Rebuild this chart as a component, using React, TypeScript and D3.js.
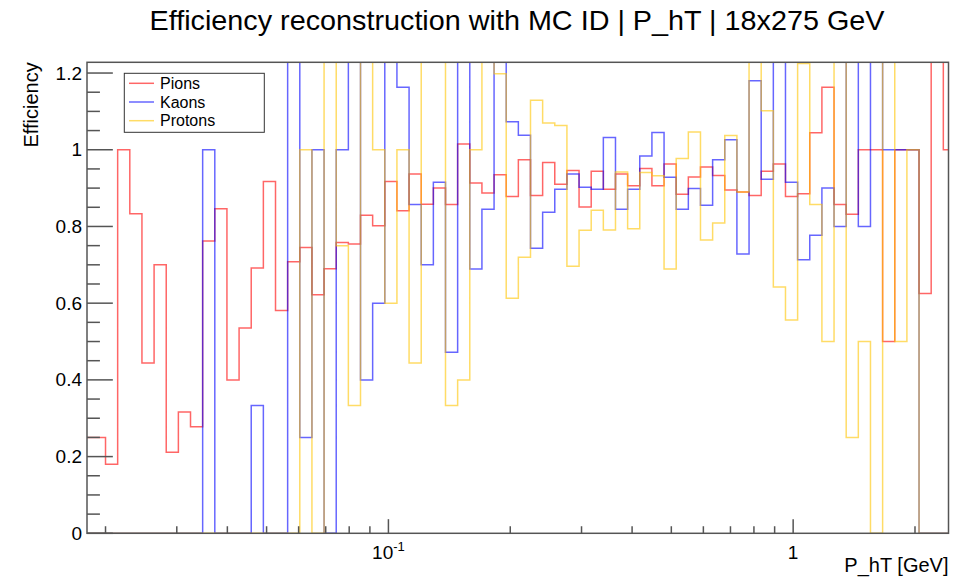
import React from 'react';
import * as d3 from 'd3';

const W = 965;
const H = 579;

// Binning: uniform in log10(P_hT); bin index 0 starts at binLowEdge
const binLowEdge = 0.02;
const binWidthDecades = 0.03;
const firstBinIndex = -2;

// Efficiency per bin, starting at bin index firstBinIndex
const pions = [
  0.25, 0.25, 0.18, 1.0, 0.833, 0.444, 0.7, 0.211, 0.316, 0.278,
  0.762, 0.846, 0.4, 0.535, 0.692, 0.917, 0.581, 0.708, 0.745, 0.622,
  0.69, 0.758, 0.754, 0.829, 0.802, 0.917, 0.841, 0.937, 0.858, 0.9,
  0.857, 1.015, 0.913, 0.887, 0.935, 0.878, 0.974, 0.881, 0.967, 0.91,
  0.946, 0.851, 0.944, 0.897, 0.937, 0.906, 0.951, 0.906, 0.963, 0.884,
  0.929, 0.955, 0.933, 0.895, 0.89, 0.881, 0.944, 0.963, 0.878, 0.885,
  1.044, 1.163, 0.857, 0.832, 1.0, 1.0, 0.5, 1.0, 1.0, 0.625,
  2.0, 1.0,
];

const kaons = [
  0, 0, 0, 0, 0, 0, 0, 0, 0, 0,
  1.0, 0, 0, 0, 0.333, 0, 0, 2.0, 0.25, 1.0,
  0, 1.0, 2.0, 0.4, 0.6, 2.0, 1.163, 0.857, 0.7, 0.915,
  0.472, 2.0, 0.689, 0.845, 2.0, 1.073, 1.038, 0.743, 0.837, 0.897,
  0.937, 0.902, 0.897, 1.032, 0.845, 0.897, 0.984, 1.045, 0.928, 0.845,
  0.899, 0.855, 0.974, 1.026, 0.728, 1.18, 0.923, 2.0, 0.915, 0.713,
  0.777, 0.9, 0.8, 2.0, 0.8, 2.0, 1.0, 1.0, 1.0, 0,
  0, 0,
];

const protons = [
  0, 0, 0, 0, 0, 0, 0, 0, 0, 0,
  0, 0, 0, 0, 0, 0, 0, 0, 1.0, 0,
  2.0, 0.75, 0.333, 2.0, 1.0, 0.6, 1.0, 0.444, 2.0, 2.0,
  0.333, 0.4, 1.0, 2.0, 1.198, 0.613, 0.72, 1.129, 1.07, 1.063,
  0.696, 0.79, 0.842, 0.791, 0.942, 0.794, 0.941, 0.932, 0.689, 0.977,
  1.046, 0.765, 0.809, 1.037, 0.89, 2.0, 1.102, 0.642, 0.556, 1.225,
  0.857, 0.5, 2.0, 0.25, 0.5, 0, 2.0, 0.5, 1.0, 0,
  0, 0,
];

const seriesNames = ['Pions', 'Kaons', 'Protons'];
const seriesValues = [pions, kaons, protons];
const seriesColors = ['#ff0000', '#0000ff', '#ffc400'];

const titleText = 'Efficiency reconstruction with MC ID | P_hT | 18x275 GeV';
const xTitle = 'P_hT [GeV]';
const yTitle = 'Efficiency';

const xDomain = [0.018, 2.42];
const yDomain = [0, 1.228];
const yMajorTicks = [0, 0.2, 0.4, 0.6, 0.8, 1, 1.2];
const yMinorStep = 0.05;

const frame = { left: 87, right: 948.5, top: 62.3, bottom: 533.3 };

const x = d3.scaleLog().domain(xDomain).range([frame.left, frame.right]);
const y = d3.scaleLinear().domain(yDomain).range([frame.bottom, frame.top]);

const binEdge = (i: number) =>
  binLowEdge * Math.pow(10, (i + firstBinIndex) * binWidthDecades);

function histPath(values: number[]): string {
  const pts: [number, number][] = values.map((v, i) => [x(binEdge(i)), y(v)]);
  pts.push([x(binEdge(values.length)), y(values[values.length - 1])]);
  pts.unshift([x(binEdge(0)), y(0)]);
  return d3.line().curve(d3.curveStepAfter)(pts) || '';
}

export default function App() {
  const font = 'Liberation Sans, Arial, Helvetica, sans-serif';
  const frameH = frame.bottom - frame.top;
  const frameW = frame.right - frame.left;
  const yTickLen = 0.03 * frameW;
  const xTickLen = 0.03 * frameH;

  const yMinor = d3.range(0, yDomain[1] + 1e-9, yMinorStep).filter(
    (v) => !yMajorTicks.some((m) => Math.abs(m - v) < 1e-6)
  );
  const xTicks = x.ticks().filter((v) => v >= xDomain[0] && v <= xDomain[1]);
  const isDecade = (v: number) => Math.abs(Math.log10(v) - Math.round(Math.log10(v))) < 1e-6;

  return (
    <svg
      width={W}
      height={H}
      style={{ position: 'absolute', left: 0, top: 0, background: '#fff' }}
      fontFamily={font}
    >
      <defs>
        <clipPath id="frameClip">
          <rect x={frame.left} y={frame.top} width={frameW} height={frameH} />
        </clipPath>
      </defs>

      <text
        x={517}
        y={30}
        fontSize={28}
        textAnchor="middle"
        fill="#000"
        textLength={735}
        lengthAdjust="spacingAndGlyphs"
      >
        {titleText}
      </text>

      <g clipPath="url(#frameClip)">
        {seriesValues.map((vals, si) => (
          <path
            key={seriesNames[si]}
            d={histPath(vals)}
            fill="none"
            stroke={seriesColors[si]}
            strokeOpacity={0.6}
            strokeWidth={1.5}
          />
        ))}
      </g>

      {/* frame */}
      <rect
        x={frame.left}
        y={frame.top}
        width={frameW}
        height={frameH}
        fill="none"
        stroke="#555"
        strokeWidth={1.5}
      />

      {/* y axis ticks */}
      {yMajorTicks.map((v) => (
        <g key={'ym' + v}>
          <line x1={frame.left} x2={frame.left + yTickLen} y1={y(v)} y2={y(v)} stroke="#555" strokeWidth={1.5} />
          <text x={frame.left - 5} y={y(v) + 6.5} fontSize={19} textAnchor="end">
            {String(v)}
          </text>
        </g>
      ))}
      {yMinor.map((v) => (
        <line key={'yn' + v} x1={frame.left} x2={frame.left + yTickLen / 2} y1={y(v)} y2={y(v)} stroke="#555" strokeWidth={1.5} />
      ))}

      {/* x axis ticks */}
      {xTicks.map((v) => (
        <line
          key={'xt' + v}
          x1={x(v)}
          x2={x(v)}
          y1={frame.bottom}
          y2={frame.bottom - (isDecade(v) ? xTickLen : xTickLen / 2)}
          stroke="#555"
          strokeWidth={1.5}
        />
      ))}
      <text x={x(0.1)} y={559} fontSize={19} textAnchor="middle">
        10<tspan dy={-8} fontSize={13}>-1</tspan>
      </text>
      <text x={x(1)} y={559} fontSize={19} textAnchor="middle">
        1
      </text>

      <text x={frame.right} y={572} fontSize={20} textAnchor="end">
        {xTitle}
      </text>
      <text
        transform={`translate(38, ${frame.top}) rotate(-90)`}
        fontSize={20}
        textAnchor="end"
      >
        {yTitle}
      </text>

      {/* legend */}
      <rect x={124.3} y={73.3} width={140} height={59} fill="#fff" stroke="#333" strokeWidth={1} />
      {seriesNames.map((name, i) => (
        <g key={'lg' + name}>
          <line
            x1={129}
            x2={154}
            y1={83.3 + i * 18.7}
            y2={83.3 + i * 18.7}
            stroke={seriesColors[i]}
            strokeOpacity={0.6}
            strokeWidth={1.5}
          />
          <text x={160} y={83.3 + i * 18.7 + 5.5} fontSize={16}>
            {name}
          </text>
        </g>
      ))}
    </svg>
  );
}
